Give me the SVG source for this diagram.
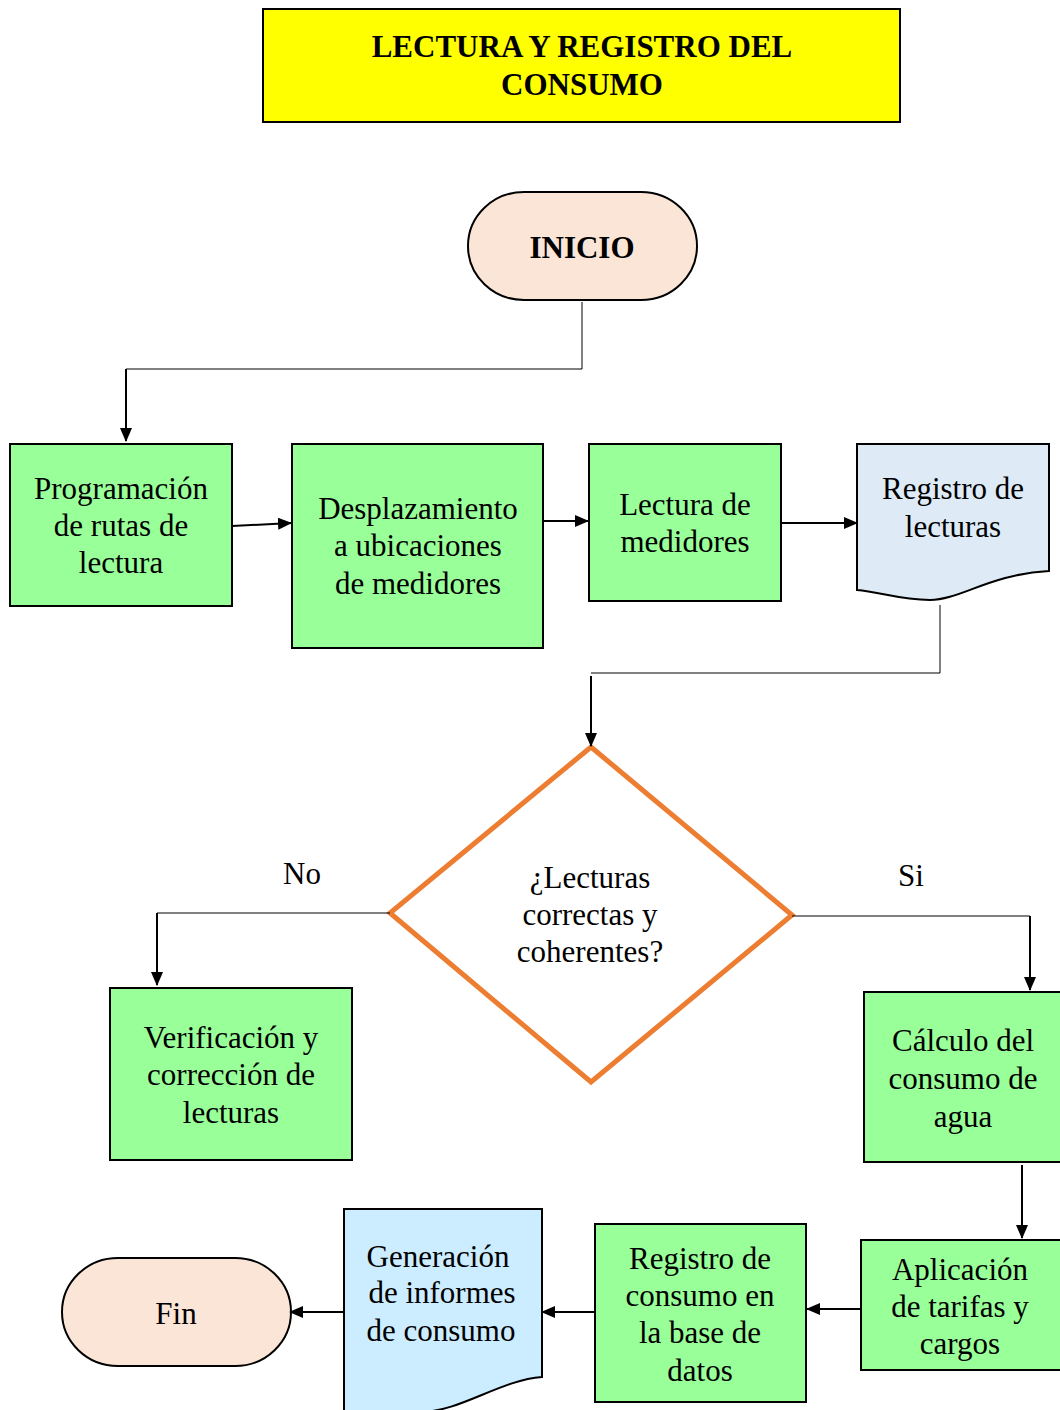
<svg xmlns="http://www.w3.org/2000/svg" width="1060" height="1410" viewBox="0 0 1060 1410">
<defs>
<marker id="ah" markerWidth="14" markerHeight="12" refX="13" refY="6" orient="auto" markerUnits="userSpaceOnUse" viewBox="0 0 14 12"><path d="M0,0 L14,6 L0,12 z" fill="#000"/></marker>
<style>
.t{font-family:"Liberation Serif","Times New Roman",serif;font-size:31px;fill:#000;text-anchor:middle}
.b{font-weight:bold}
.proc{fill:#99FF99;stroke:#000;stroke-width:2}
.term{fill:#FBE5D6;stroke:#000;stroke-width:2}
.ln{fill:none;stroke:#000;stroke-width:1}
.ar{fill:none;stroke:#000;stroke-width:2;marker-end:url(#ah)}
</style>
</defs>
<rect width="1060" height="1410" fill="#fff"/>
<g id="title">
<rect x="263" y="9" width="637" height="113" fill="#FFFF00" stroke="#000" stroke-width="2"/>
<text class="t b" x="582" y="57">LECTURA Y REGISTRO DEL</text>
<text class="t b" x="582" y="95">CONSUMO</text>
</g>
<g id="inicio">
<rect class="term" x="468" y="192" width="229" height="108" rx="56" ry="54"/>
<text class="t b" x="582" y="258">INICIO</text>
</g>
<g id="programacion">
<rect class="proc" x="10" y="444" width="222" height="162"/>
<text class="t" x="121" y="499">Programación</text>
<text class="t" x="121" y="536">de rutas de</text>
<text class="t" x="121" y="573">lectura</text>
</g>
<g id="desplazamiento">
<rect class="proc" x="292" y="444" width="251" height="204"/>
<text class="t" x="418" y="519">Desplazamiento</text>
<text class="t" x="418" y="556">a ubicaciones</text>
<text class="t" x="418" y="594">de medidores</text>
</g>
<g id="lectura">
<rect class="proc" x="589" y="444" width="192" height="157"/>
<text class="t" x="685" y="515">Lectura de</text>
<text class="t" x="685" y="552">medidores</text>
</g>
<g id="registro-lecturas">
<path d="M857,444 H1049 V571 C990,574 960,600 930,600 C900,600 880,592 857,590 Z" fill="#DEEBF7" stroke="#000" stroke-width="2"/>
<text class="t" x="953" y="499">Registro de</text>
<text class="t" x="953" y="537">lecturas</text>
</g>
<g id="decision">
<polygon points="591,747 792,915 591,1082 390,913" fill="#fff" stroke="#ED7D31" stroke-width="5"/>
<text class="t" x="590" y="888">¿Lecturas</text>
<text class="t" x="590" y="925">correctas y</text>
<text class="t" x="590" y="962">coherentes?</text>
</g>
<g id="verificacion">
<rect class="proc" x="110" y="988" width="242" height="172"/>
<text class="t" x="231" y="1048">Verificación y</text>
<text class="t" x="231" y="1085">corrección de</text>
<text class="t" x="231" y="1123">lecturas</text>
</g>
<g id="calculo">
<rect class="proc" x="864" y="992" width="200" height="170"/>
<text class="t" x="963" y="1051">Cálculo del</text>
<text class="t" x="963" y="1089">consumo de</text>
<text class="t" x="963" y="1127">agua</text>
</g>
<g id="aplicacion">
<rect class="proc" x="861" y="1240" width="201" height="130"/>
<text class="t" x="960" y="1280">Aplicación</text>
<text class="t" x="960" y="1317">de tarifas y</text>
<text class="t" x="960" y="1354">cargos</text>
</g>
<g id="registro-consumo">
<rect class="proc" x="595" y="1224" width="211" height="178"/>
<text class="t" x="700" y="1269">Registro de</text>
<text class="t" x="700" y="1306">consumo en</text>
<text class="t" x="700" y="1343">la base de</text>
<text class="t" x="700" y="1381">datos</text>
</g>
<g id="generacion">
<path d="M344,1209 H542 V1377 C500,1380 460,1412 420,1412 L344,1412 Z" fill="#CCECFF" stroke="#000" stroke-width="2"/>
<text class="t" x="438" y="1267">Generación</text>
<text class="t" x="442" y="1303">de  informes</text>
<text class="t" x="441" y="1341">de consumo</text>
</g>
<g id="fin">
<rect class="term" x="62" y="1258" width="229" height="108" rx="56" ry="54"/>
<text class="t" x="176" y="1324">Fin</text>
</g>
<g id="labels">
<text class="t" x="302" y="884">No</text>
<text class="t" x="911" y="886">Si</text>
</g>
<g id="connectors">
<polyline class="ln" points="582,302 582,369 126,369"/>
<line class="ar" x1="126" y1="369" x2="126" y2="441"/>
<line class="ar" x1="232" y1="526" x2="291" y2="523"/>
<line class="ar" x1="543" y1="521" x2="588" y2="521"/>
<line class="ar" x1="781" y1="523" x2="857" y2="523"/>
<polyline class="ln" points="940,605 940,673 591,673"/>
<line class="ar" x1="591" y1="676" x2="591" y2="746"/>
<polyline class="ln" points="390,913 157,913"/>
<line class="ar" x1="157" y1="913" x2="157" y2="985"/>
<polyline class="ln" points="792,916 1030,916"/>
<line class="ar" x1="1030" y1="916" x2="1030" y2="990"/>
<line class="ar" x1="1022" y1="1165" x2="1022" y2="1238"/>
<line class="ar" x1="861" y1="1309" x2="807" y2="1309"/>
<line class="ar" x1="595" y1="1312" x2="542" y2="1312"/>
<line class="ar" x1="344" y1="1312" x2="290" y2="1312"/>
</g>
</svg>
